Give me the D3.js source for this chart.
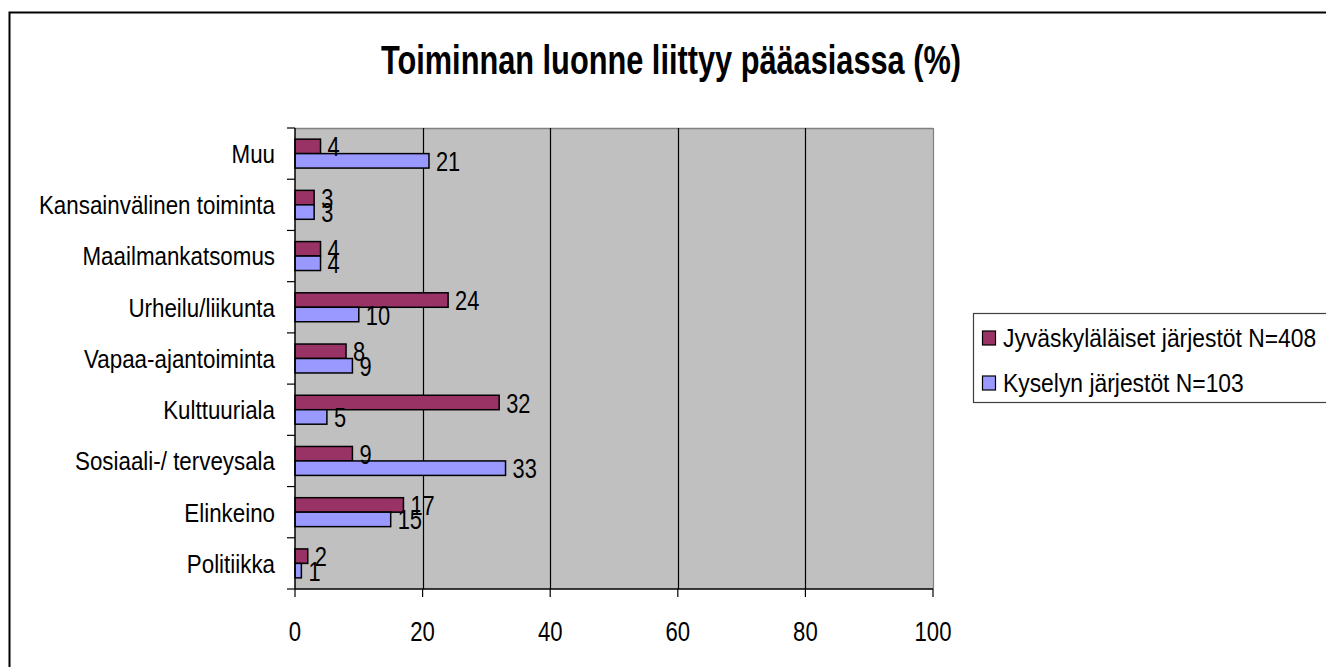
<!DOCTYPE html>
<html>
<head>
<meta charset="utf-8">
<script src="https://cdn.jsdelivr.net/npm/d3@7"></script>
<style>
  body { margin: 0; background: #fff; }
  svg text { font-family: Arial, 'Liberation Sans', sans-serif; fill: #000; }
</style>
</head>
<body>
<svg id="chart" width="1326" height="667"></svg>
<script>
// data (%)
let categories = ['Muu', 'Kansainvälinen toiminta', 'Maailmankatsomus', 'Urheilu/liikunta',
    'Vapaa-ajantoiminta', 'Kulttuuriala', 'Sosiaali-/ terveysala', 'Elinkeino', 'Politiikka'];
let seriesNames = ['Jyväskyläläiset järjestöt N=408', 'Kyselyn järjestöt N=103'];
let jyvaskyla = [4, 3, 4, 24, 8, 32, 9, 17, 2];
let kysely = [21, 3, 4, 10, 9, 5, 33, 15, 1];
let xTicks = [0, 20, 40, 60, 80, 100];
let colors = ['#993366', '#9999ff'];

let svg = d3.select('#chart');

// outer frame, runs off the right and bottom edges
svg.append('rect')
    .attr('x', 9.5).attr('y', 12.5)
    .attr('width', 1400).attr('height', 700)
    .attr('fill', 'none').attr('stroke', '#000').attr('stroke-width', 2);

// text is tall and narrow in the original, so squeeze it sideways
function squeezed(sel, x, y, sx){
    return sel.attr('transform', `translate(${x},${y}) scale(${sx},1)`);
}

squeezed(svg.append('text'), 671, 74, 0.75)
    .attr('text-anchor', 'middle')
    .attr('font-size', 41)
    .attr('font-weight', 'bold')
    .text('Toiminnan luonne liittyy pääasiassa (%)');

let plotLeft = 295, plotRight = 933, plotTop = 128, plotBottom = 589;

let x = d3.scaleLinear().domain([0, 100]).range([plotLeft, plotRight]);
let y = d3.scaleBand().domain(categories).range([plotTop, plotBottom]);
let ySub = d3.scaleBand().domain([0, 1]).range([0, y.bandwidth()]).paddingOuter(0.77);

// plot area
svg.append('rect')
    .attr('x', x(0)).attr('y', plotTop)
    .attr('width', x(100) - x(0)).attr('height', plotBottom - plotTop)
    .attr('fill', '#c0c0c0');

svg.append('line')
    .attr('x1', x(0)).attr('x2', x(100))
    .attr('y1', plotTop + 0.5).attr('y2', plotTop + 0.5)
    .attr('stroke', '#808080').attr('stroke-width', 1.5);

svg.append('g').selectAll('line')
    .data(xTicks.slice(1))
    .enter()
    .append('line')
    .attr('x1', d => Math.round(x(d)) + 0.5)
    .attr('x2', d => Math.round(x(d)) + 0.5)
    .attr('y1', plotTop).attr('y2', plotBottom)
    .attr('stroke', d => d === 100 ? '#808080' : '#000')
    .attr('stroke-width', 1.2);

// bars
let rows = categories.map((c, i) => ({cat: c, vals: [jyvaskyla[i], kysely[i]]}));

let groups = svg.append('g').selectAll('g')
    .data(rows)
    .enter()
    .append('g')
    .attr('transform', d => `translate(0,${y(d.cat)})`);

groups.selectAll('rect')
    .data(d => d.vals.map((v, k) => ({v: v, k: k})))
    .enter()
    .append('rect')
    .attr('x', x(0))
    .attr('y', d => ySub(d.k))
    .attr('width', d => x(d.v) - x(0))
    .attr('height', ySub.bandwidth())
    .attr('fill', d => colors[d.k])
    .attr('stroke', '#000')
    .attr('stroke-width', 1.5);

groups.selectAll('text')
    .data(d => d.vals.map((v, k) => ({v: v, k: k})))
    .enter()
    .append('text')
    .attr('font-size', 28)
    .attr('dy', '0.36em')
    .each(function(d){
        squeezed(d3.select(this), x(d.v) + 7, ySub(d.k) + ySub.bandwidth() / 2, 0.78);
    })
    .text(d => d.v);

// axes
svg.append('line')
    .attr('x1', x(0)).attr('x2', x(0))
    .attr('y1', plotTop).attr('y2', plotBottom)
    .attr('stroke', '#000').attr('stroke-width', 1.5);
svg.append('line')
    .attr('x1', x(0)).attr('x2', x(100))
    .attr('y1', plotBottom).attr('y2', plotBottom)
    .attr('stroke', '#000').attr('stroke-width', 1.5);

// category ticks on the band edges
let edges = categories.map(c => y(c)).concat([plotBottom]);
svg.append('g').selectAll('line')
    .data(edges)
    .enter()
    .append('line')
    .attr('x1', x(0) - 8).attr('x2', x(0))
    .attr('y1', d => d).attr('y2', d => d)
    .attr('stroke', '#000').attr('stroke-width', 1.2);

svg.append('g').selectAll('text')
    .data(categories)
    .enter()
    .append('text')
    .attr('text-anchor', 'end')
    .attr('font-size', 26)
    .attr('dy', '0.36em')
    .each(function(d){
        squeezed(d3.select(this), 275, y(d) + y.bandwidth() / 2, 0.86);
    })
    .text(d => d);

// x ticks
svg.append('g').selectAll('line')
    .data(xTicks)
    .enter()
    .append('line')
    .attr('x1', d => x(d)).attr('x2', d => x(d))
    .attr('y1', plotBottom).attr('y2', plotBottom + 8)
    .attr('stroke', '#000').attr('stroke-width', 1.2);

svg.append('g').selectAll('text')
    .data(xTicks)
    .enter()
    .append('text')
    .attr('text-anchor', 'middle')
    .attr('font-size', 28)
    .each(function(d){
        squeezed(d3.select(this), x(d), 641, 0.79);
    })
    .text(d => d);

// legend
let legend = svg.append('g');
legend.append('rect')
    .attr('x', 973.5).attr('y', 313.5)
    .attr('width', 400).attr('height', 89)
    .attr('fill', '#fff').attr('stroke', '#404040').attr('stroke-width', 1.2);

let items = legend.selectAll('g')
    .data(seriesNames)
    .enter()
    .append('g')
    .attr('transform', (d, i) => `translate(0,${338 + i * 45})`);

items.append('rect')
    .attr('x', 982.5).attr('y', -7)
    .attr('width', 13).attr('height', 14)
    .attr('fill', (d, i) => colors[i])
    .attr('stroke', '#000').attr('stroke-width', 1.2);

items.append('text')
    .attr('font-size', 26)
    .attr('dy', '0.36em')
    .each(function(){
        squeezed(d3.select(this), 1003, 0, 0.88);
    })
    .text(d => d);
</script>
</body>
</html>
